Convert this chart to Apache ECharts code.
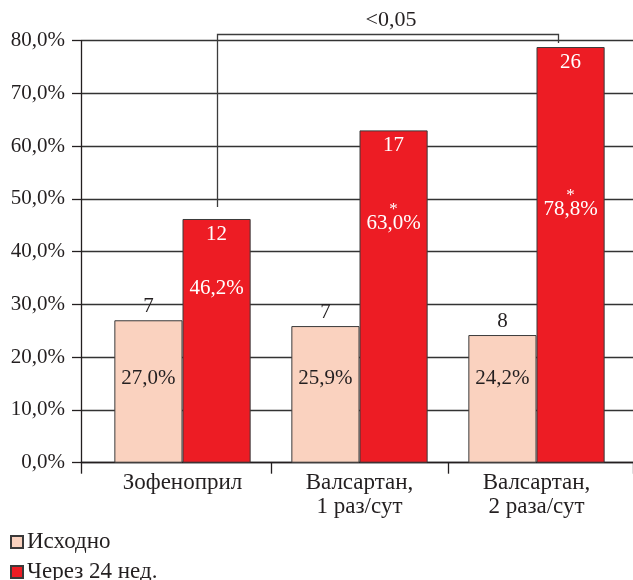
<!DOCTYPE html>
<html>
<head>
<meta charset="utf-8">
<script src="https://cdn.jsdelivr.net/npm/echarts@6/dist/echarts.min.js"></script>
<style>
  html, body { margin: 0; padding: 0; background: #ffffff; }
  #chart { width: 633px; height: 580px; }
</style>
</head>
<body>
<div id="chart"></div>
<script>
// ---- data ----
const categories = ['Зофеноприл', 'Валсартан,\n1 раз/сут', 'Валсартан,\n2 раза/сут'];
const seriesNames = ['Исходно', 'Через 24 нед.'];
const baselinePct = [27.0, 25.9, 24.2];
const week24Pct = [46.2, 63.0, 78.8];
const baselineN = [7, 7, 8];
const week24N = [12, 17, 26];
const week24Marks = ['', '*', '*'];
const yMin = 0, yMax = 80, yStep = 10;
const pLabel = '<0,05';
const pPair = [0, 2];

// ---- style ----
const FONT = "'Liberation Serif', 'DejaVu Serif', serif";
const INK = '#231f20';
const LINE = '#3a3a3a';
const PEACH = '#fad2bf';
const RED = '#ed1c24';
const CAT_GAP = 0.23;
const redPctRise = [164, 229, 243];   // px from bar base to bottom of the % label
const bracketTop = 81.3;              // y-value of the bracket's top line
const bracketGaps = [12, 4];          // px between bracket legs and bar tops
const bracketShift = [0, -13];        // px horizontal shift of each leg from bar centre
const legendTops = [530, 560];

const fmtPct = v => v.toFixed(1).replace('.', ',') + '%';

const GRID_POS = { top: 40.7, bottom: 117.3 };

const chart = echarts.init(document.getElementById('chart'), null, { renderer: 'canvas' });

const hiddenValueAxis = (gridIndex) => ({
  type: 'value', gridIndex, min: yMin, max: yMax, interval: yStep,
  show: false, splitLine: { show: false }
});

// one legend block per series, stacked vertically
const legends = seriesNames.map((name, i) => ({
  orient: 'vertical', left: 10, top: legendTops[i], padding: 0,
  itemWidth: 12, itemHeight: 12, icon: 'rect',
  data: [name],
  textStyle: { color: INK, fontFamily: FONT, fontSize: 23, lineHeight: 24, padding: [0, 0, 0, -1] }
}));

const option = {
  animation: false,
  backgroundColor: '#ffffff',
  textStyle: { fontFamily: FONT },
  grid: [
    // frame: y axis, gridlines, baseline
    { left: 81, right: 0, top: GRID_POS.top, bottom: GRID_POS.bottom },
    // bars
    { left: 94, right: 8, top: GRID_POS.top, bottom: GRID_POS.bottom },
    // second set of bar labels
    { left: 94, right: 8, top: GRID_POS.top, bottom: GRID_POS.bottom }
  ],
  xAxis: [
    {
      type: 'category', gridIndex: 0, data: [''],
      axisLine: { show: true, lineStyle: { color: INK, width: 1.3 } },
      axisTick: { show: true, length: 11, lineStyle: { color: INK, width: 1.3 } },
      axisLabel: { show: false }, splitLine: { show: false }
    },
    {
      type: 'category', gridIndex: 1, data: categories,
      axisLine: { show: false }, axisTick: { show: false },
      axisLabel: {
        color: INK, fontFamily: FONT, fontSize: 23, lineHeight: 24, margin: 8, interval: 0
      }
    },
    {
      type: 'category', gridIndex: 2, data: categories, show: false
    }
  ],
  yAxis: [
    {
      type: 'value', gridIndex: 0, min: yMin, max: yMax, interval: yStep,
      axisLine: { show: true, lineStyle: { color: INK, width: 1.3 } },
      axisTick: { show: true, length: 9, lineStyle: { color: INK, width: 1.3 } },
      axisLabel: {
        color: INK, fontFamily: FONT, fontSize: 21, margin: 16,
        formatter: v => fmtPct(v)
      },
      splitLine: { show: true, lineStyle: { color: '#333333', width: 1.3 } }
    },
    hiddenValueAxis(1),
    hiddenValueAxis(2)
  ],
  legend: legends,
  series: [
    {
      name: seriesNames[0], type: 'bar', xAxisIndex: 1, yAxisIndex: 1,
      barGap: 0, barCategoryGap: (CAT_GAP * 100) + '%',
      data: baselinePct,
      itemStyle: { color: PEACH, borderColor: LINE, borderWidth: 1 },
      label: {
        show: true, position: 'insideBottom', distance: 74,
        color: INK, fontFamily: FONT, fontSize: 21,
        formatter: p => fmtPct(p.value)
      },
      z: 3
    },
    {
      name: seriesNames[1], type: 'bar', xAxisIndex: 1, yAxisIndex: 1,
      barGap: 0, barCategoryGap: (CAT_GAP * 100) + '%',
      data: week24Pct,
      itemStyle: { color: RED, borderColor: LINE, borderWidth: 1 },
      label: {
        show: true, position: 'insideTop', distance: 5,
        color: '#ffffff', fontFamily: FONT, fontSize: 21,
        formatter: p => String(week24N[p.dataIndex])
      },
      z: 3
    },
    // counts above the baseline bars
    {
      name: 'n0', type: 'bar', xAxisIndex: 2, yAxisIndex: 2, silent: true,
      barGap: 0, barCategoryGap: (CAT_GAP * 100) + '%',
      data: baselinePct,
      itemStyle: { color: 'rgba(0,0,0,0)' },
      label: {
        show: true, position: 'top', distance: 3,
        color: INK, fontFamily: FONT, fontSize: 21,
        formatter: p => String(baselineN[p.dataIndex])
      },
      z: 4
    },
    // percentages (with significance marks) inside the 24-week bars
    {
      name: 'p1', type: 'bar', xAxisIndex: 2, yAxisIndex: 2, silent: true,
      barGap: 0, barCategoryGap: (CAT_GAP * 100) + '%',
      data: week24Pct.map((v, i) => ({
        value: v,
        label: { distance: redPctRise[i] }
      })),
      itemStyle: { color: 'rgba(0,0,0,0)' },
      label: {
        show: true, position: 'insideBottom',
        color: '#ffffff', fontFamily: FONT,
        formatter: p => (week24Marks[p.dataIndex] ? '{s|' + week24Marks[p.dataIndex] + '}\n' : '') +
          '{p|' + fmtPct(p.value) + '}',
        rich: {
          s: { fontFamily: FONT, fontSize: 17, lineHeight: 7, color: '#ffffff' },
          p: { fontFamily: FONT, fontSize: 21, lineHeight: 21, color: '#ffffff' }
        }
      },
      z: 4
    },
    // significance bracket and category separators
    {
      name: 'bracket', type: 'custom', xAxisIndex: 1, yAxisIndex: 1, silent: true,
      clip: false, z: 5,
      data: [[0, 0]],
      renderItem: function (params, api) {
        const band = api.size([1, 0])[0];
        const barW = band * (1 - CAT_GAP) / 2;
        const xs = pPair.map((c, k) => Math.round(api.coord([c, 0])[0] + barW / 2 + bracketShift[k]) + 0.5);
        const yTop = Math.round(api.coord([0, bracketTop])[1]) + 0.5;
        const yL = api.coord([0, week24Pct[pPair[0]]])[1] - bracketGaps[0];
        const yR = api.coord([0, week24Pct[pPair[1]]])[1] - bracketGaps[1];
        const base = api.coord([0, 0])[1];
        const children = [
          {
            type: 'polyline',
            shape: { points: [[xs[0], yL], [xs[0], yTop], [xs[1], yTop], [xs[1], yR]] },
            style: { stroke: '#3c3c3c', lineWidth: 1.3, fill: null }
          },
          {
            type: 'text',
            style: {
              text: pLabel, x: (xs[0] + xs[1]) / 2 + 3, y: yTop - 3,
              align: 'center', verticalAlign: 'bottom',
              font: '22px ' + FONT, fill: INK
            }
          }
        ];
        for (let i = 1; i < categories.length; i++) {
          const x = Math.round(api.coord([i, 0])[0] - band / 2) + 0.5;
          children.push({
            type: 'line',
            shape: { x1: x, y1: base, x2: x, y2: base + 11 },
            style: { stroke: INK, lineWidth: 1.3 }
          });
        }
        return { type: 'group', children };
      }
    }
  ]
};

chart.setOption(option);
</script>
</body>
</html>
